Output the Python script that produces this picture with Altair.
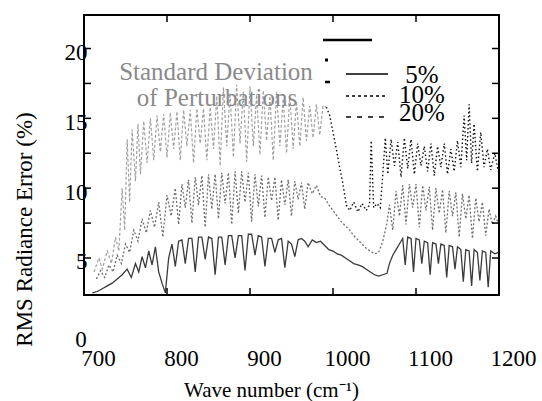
import altair as alt
import pandas as pd

FONT = "Liberation Serif"

# ---------------- data ----------------
x_tick_labels = [700, 800, 900, 1000, 1100, 1200]
y_tick_labels = [5, 10, 15, 20]
frame_x_ticks = [800, 900, 1000, 1100]
frame_y_ticks = [5, 7.5, 10, 12.5, 15, 17.5, 20]

# 5 % perturbation (solid)
wn_5 = [710, 716, 722, 728, 734, 740, 746, 752, 757, 762, 766, 770, 774, 778, 782, 786,
        790, 794, 798, 802, 806, 810, 814, 818, 822, 826, 830, 834, 838, 842, 846, 850,
        854, 858, 862, 866, 870, 874, 878, 882, 886, 890, 894, 898, 902, 906, 910, 914,
        918, 922, 926, 930, 934, 938, 942, 946, 950, 954, 958, 962, 966, 970, 975, 980,
        985, 990, 995, 1000, 1005, 1010, 1015, 1020, 1025, 1030, 1035, 1040, 1045, 1050,
        1055, 1060, 1065, 1068, 1072, 1076, 1080, 1084, 1087, 1090, 1094, 1097, 1100,
        1104, 1107, 1110, 1114, 1117, 1120, 1124, 1127, 1130, 1134, 1137, 1140, 1144,
        1147, 1150, 1154, 1157, 1160, 1164, 1167, 1170, 1174, 1177, 1180, 1184, 1187,
        1190, 1195, 1199]
rms_5 = [2.5, 2.6, 2.8, 3.0, 3.2, 3.5, 3.8, 4.2, 3.6, 4.6, 4.0, 5.1, 4.3, 5.5, 4.5, 5.8,
         4.0, 3.2, 2.5, 5.0, 6.0, 4.4, 6.2, 6.3, 4.6, 6.4, 6.4, 4.0, 6.5, 6.5, 4.9, 6.5,
         6.4, 3.8, 6.5, 6.5, 4.5, 6.6, 6.6, 5.0, 6.6, 6.6, 4.1, 6.7, 6.7, 5.2, 6.6, 6.5,
         4.4, 6.4, 6.4, 5.4, 6.3, 6.4, 4.3, 6.2, 6.0, 5.1, 6.3, 6.4, 6.2, 5.8, 6.3, 6.1,
         6.2, 5.9, 5.6, 5.5, 5.3, 5.2, 5.0, 4.8, 4.6, 4.5, 4.4, 4.2, 4.0, 3.8,
         3.7, 3.8, 3.9, 4.6, 5.2, 5.6, 6.0, 6.4, 4.5, 6.5, 6.4, 4.0, 6.4,
         6.3, 4.6, 6.2, 6.1, 3.8, 6.1, 6.0, 4.6, 6.0, 5.9, 3.6, 5.9, 5.8,
         4.2, 5.8, 5.6, 3.3, 5.6, 5.5, 3.0, 5.6, 5.4, 3.4, 5.5, 5.4, 2.9,
         5.5, 5.3, 5.4]

# 10 % perturbation (dotted)
wn_10 = [715, 720, 725, 730, 735, 740, 745, 750, 755, 760, 765, 770, 775, 780, 785, 790,
         795, 800, 805, 810, 814, 818, 822, 826, 830, 834, 838, 842, 846, 850, 854, 858,
         862, 866, 870, 874, 878, 882, 886, 890, 894, 898, 902, 906, 910, 914, 918, 922,
         926, 930, 934, 938, 942, 946, 950, 954, 958, 962, 966, 970, 975, 980, 985, 990,
         995, 1000, 1005, 1010, 1015, 1020, 1025, 1030, 1035, 1040, 1045, 1050, 1055,
         1060, 1065, 1068, 1072, 1076, 1080, 1084, 1088, 1092, 1096, 1100, 1104, 1108,
         1112, 1116, 1120, 1124, 1128, 1132, 1136, 1140, 1144, 1148, 1152, 1156, 1160,
         1164, 1168, 1172, 1176, 1180, 1184, 1188, 1192, 1196, 1199]
rms_10 = [3.5, 4.1, 3.6, 4.5, 4.0, 5.2, 4.6, 6.0, 5.4, 7.0, 6.2, 7.8, 6.8, 8.4, 7.2, 9.0,
          6.5, 9.5, 8.0, 10.0, 7.4, 10.3, 8.6, 10.6, 7.5, 10.8, 8.8, 10.9, 7.2, 11.0, 8.5, 11.0,
          7.8, 11.1, 8.9, 11.1, 7.4, 11.2, 8.2, 11.2, 9.0, 11.1, 7.6, 11.0, 8.7, 10.9, 7.9, 10.8,
          9.1, 10.8, 7.7, 10.6, 8.8, 10.6, 8.0, 10.5, 9.2, 10.4, 8.5, 10.4, 9.6, 10.2, 9.4, 9.3,
          8.8, 8.4, 8.0, 7.6, 7.3, 7.0, 6.6, 6.3, 6.0, 5.7, 5.5, 5.3, 5.4,
          6.2, 7.5, 8.8, 7.0, 9.8, 8.0, 10.2, 7.4, 10.3, 8.6, 10.3, 7.2, 10.2,
          8.4, 10.1, 7.0, 10.0, 8.2, 9.9, 6.8, 9.8, 8.0, 9.7, 6.5, 9.6, 7.8,
          9.5, 6.4, 9.3, 7.6, 9.0, 6.6, 8.5, 7.4, 8.0, 7.5]

# 20 % perturbation (dashed)
wn_20 = [712, 718, 722, 728, 733, 738, 742, 746, 749, 752, 755, 758, 762, 765, 768, 772,
         776, 780, 784, 788, 792, 796, 800, 804, 808, 812, 816, 820, 824, 828, 832, 836,
         840, 844, 848, 852, 856, 860, 864, 868, 872, 876, 880, 884, 888, 892, 896, 900,
         904, 908, 912, 916, 920, 924, 928, 932, 936, 940, 944, 948, 952, 956, 960, 964,
         968, 972, 976, 980, 984, 988, 992, 996, 1000, 1004, 1008, 1012, 1016, 1020,
         1025, 1030, 1035, 1040, 1044, 1046, 1049, 1053, 1057, 1060, 1063, 1066, 1070,
         1074, 1078, 1082, 1086, 1090, 1094, 1098, 1102, 1106, 1110, 1114, 1118, 1122,
         1126, 1130, 1134, 1138, 1142, 1146, 1150, 1154, 1158, 1161, 1164, 1167, 1170,
         1174, 1178, 1182, 1186, 1190, 1195, 1199]
rms_20 = [4.0, 5.0, 4.2, 5.5, 4.6, 6.5, 5.5, 10.0, 7.0, 13.5, 9.0, 14.2, 10.5, 14.6, 11.0, 14.8,
          11.8, 15.0, 12.0, 15.2, 12.6, 15.3, 12.2, 15.4, 12.8, 15.5, 12.0, 15.6, 13.0, 15.6, 11.8, 15.7,
          13.2, 15.7, 12.0, 15.8, 12.8, 16.6, 11.6, 17.2, 13.0, 16.8, 12.2, 17.4, 13.2, 16.9, 11.9, 17.3,
          13.0, 16.7, 12.4, 17.0, 13.4, 16.6, 12.0, 16.9, 13.0, 16.4, 12.5, 16.7, 12.8, 16.2, 13.0, 16.5,
          13.4, 15.9, 13.6, 16.0, 13.8, 15.9, 15.8, 15.2, 14.0, 12.8, 11.5, 10.3, 8.8, 8.4,
          9.0, 8.3, 8.9, 8.4, 8.8, 13.4, 8.6, 8.9, 8.6, 11.0, 13.6, 11.0, 13.5,
          11.6, 13.3, 10.8, 13.6, 11.4, 13.5, 11.0, 13.2, 11.6, 13.0, 11.2, 13.2, 10.9,
          13.0, 11.5, 13.2, 11.0, 12.8, 11.2, 13.4, 11.5, 15.2, 12.0, 16.0, 11.8, 14.6,
          11.2, 14.0, 11.5, 12.8, 11.3, 12.5, 11.2]

legend_labels = ["5%", "10%", "20%"]
annotation_lines = ["Standard Deviation", "of Perturbations"]

# ---------------- chart ----------------
W, H = 415, 280
xs = alt.Scale(domain=[700, 1200], nice=False, zero=False)
ys = alt.Scale(domain=[2.35, 22.4], nice=False, zero=False)

x_axis = alt.Axis(values=x_tick_labels, format="d", labelFontSize=23, labelPadding=52,
                  labelOffset=14, labelFlush=False, labelOverlap=False, labelBound=False,
                  title="Wave number (cm⁻¹)", titleFontSize=21, titleX=187, titleY=95,
                  titleAlign="center", titleBaseline="middle")
y_axis = alt.Axis(values=y_tick_labels, labelFontSize=23, labelPadding=-3, labelOffset=4,
                  labelOverlap=False, labelFlush=False,
                  title="RMS Radiance Error (%)", titleFontSize=23, titleAngle=270,
                  titleX=-60, titleY=214, titleAlign="center", titleBaseline="middle")

X = alt.X("wn:Q", scale=xs, axis=x_axis)
Y = alt.Y("rms:Q", scale=ys, axis=y_axis)

df5 = pd.DataFrame({"wn": wn_5, "rms": rms_5})
df10 = pd.DataFrame({"wn": wn_10, "rms": rms_10})
df20 = pd.DataFrame({"wn": wn_20, "rms": rms_20})
df20a = df20[df20.wn <= 992]
df20b = df20[df20.wn >= 992]

line5 = alt.Chart(df5).mark_line(color="#3a3a3a", strokeWidth=1.3, clip=True).encode(x=X, y=Y)
line10 = alt.Chart(df10).mark_line(color="#6e6e6e", strokeWidth=1.3, strokeDash=[2, 2],
                                   clip=True).encode(x=X, y=Y)
line20a = alt.Chart(df20a).mark_line(color="#a0a0a0", strokeWidth=1.2, strokeDash=[3, 2],
                                     clip=True).encode(x=X, y=Y)
line20b = alt.Chart(df20b).mark_line(color="#111111", strokeWidth=1.4, strokeDash=[1.5, 2.5],
                                     clip=True).encode(x=X, y=Y)

# inward frame ticks
dfx = pd.DataFrame({"wn": frame_x_ticks})
dfy = pd.DataFrame({"rms": frame_y_ticks})
tick_top = alt.Chart(dfx).mark_rule(color="black", strokeWidth=1.5).encode(
    x=X, y=alt.value(0), y2=alt.value(7))
tick_bot = alt.Chart(dfx).mark_rule(color="black", strokeWidth=1.5).encode(
    x=X, y=alt.value(H - 7), y2=alt.value(H))
tick_left = alt.Chart(dfy).mark_rule(color="black", strokeWidth=1.5).encode(
    y=Y, x=alt.value(0), x2=alt.value(7))
tick_right = alt.Chart(dfy).mark_rule(color="black", strokeWidth=1.5).encode(
    y=Y, x=alt.value(W - 7), x2=alt.value(W))

# the "0" label under the frame
zero_lbl = alt.Chart(pd.DataFrame({"rms": [0], "t": ["0"]})).mark_text(
    font=FONT, fontSize=23, align="center", baseline="middle", dy=12, color="black"
).encode(x=alt.value(-3), y=Y, text="t:N")

one = pd.DataFrame({"a": [0]})
ann1 = alt.Chart(one).mark_text(font=FONT, fontSize=25, color="#8a8a8a", align="center",
                                baseline="middle").encode(
    x=alt.value(132), y=alt.value(57), text=alt.value(annotation_lines[0]))
ann2 = alt.Chart(one).mark_text(font=FONT, fontSize=25, color="#8a8a8a", align="center",
                                baseline="middle").encode(
    x=alt.value(133), y=alt.value(83), text=alt.value(annotation_lines[1]))

# legend drawn by hand
leg_top = alt.Chart(one).mark_rule(color="black", strokeWidth=2.5).encode(
    x=alt.value(239), x2=alt.value(288), y=alt.value(25))
leg_dot1 = alt.Chart(one).mark_rule(color="black", strokeWidth=3).encode(
    x=alt.value(241), x2=alt.value(244), y=alt.value(45))
leg_dot2 = alt.Chart(one).mark_rule(color="black", strokeWidth=2.5).encode(
    x=alt.value(241), x2=alt.value(246), y=alt.value(67))
leg5 = alt.Chart(one).mark_rule(color="black", strokeWidth=1.6).encode(
    x=alt.value(262), x2=alt.value(304), y=alt.value(59))
leg10 = alt.Chart(one).mark_rule(color="black", strokeWidth=1.6, strokeDash=[3, 3]).encode(
    x=alt.value(262), x2=alt.value(304), y=alt.value(81))
leg20 = alt.Chart(one).mark_rule(color="black", strokeWidth=1.6, strokeDash=[5, 6]).encode(
    x=alt.value(262), x2=alt.value(304), y=alt.value(102))
leg_t = []
for lbl, yy in zip(legend_labels, [60, 80, 98]):
    leg_t.append(alt.Chart(one).mark_text(font=FONT, fontSize=25, color="black",
                                          align="center", baseline="middle").encode(
        x=alt.value(338), y=alt.value(yy), text=alt.value(lbl)))

chart = alt.layer(
    line20a, line20b, line10, line5,
    tick_top, tick_bot, tick_left, tick_right,
    zero_lbl, ann1, ann2,
    leg_top, leg_dot1, leg_dot2, leg5, leg10, leg20, *leg_t
).properties(
    width=W, height=H,
    autosize=alt.AutoSizeParams(type="none"),
    padding={"left": 84, "top": 15, "right": 43, "bottom": 106},
    background="white",
).configure_view(
    stroke="black", strokeWidth=2
).configure_axis(
    grid=False, domain=False, ticks=False, tickSize=0,
    labelFont=FONT, titleFont=FONT, labelColor="black", titleColor="black",
    titleFontWeight="normal"
)

chart.save("out.html", embed_options={"renderer": "svg", "actions": False})
